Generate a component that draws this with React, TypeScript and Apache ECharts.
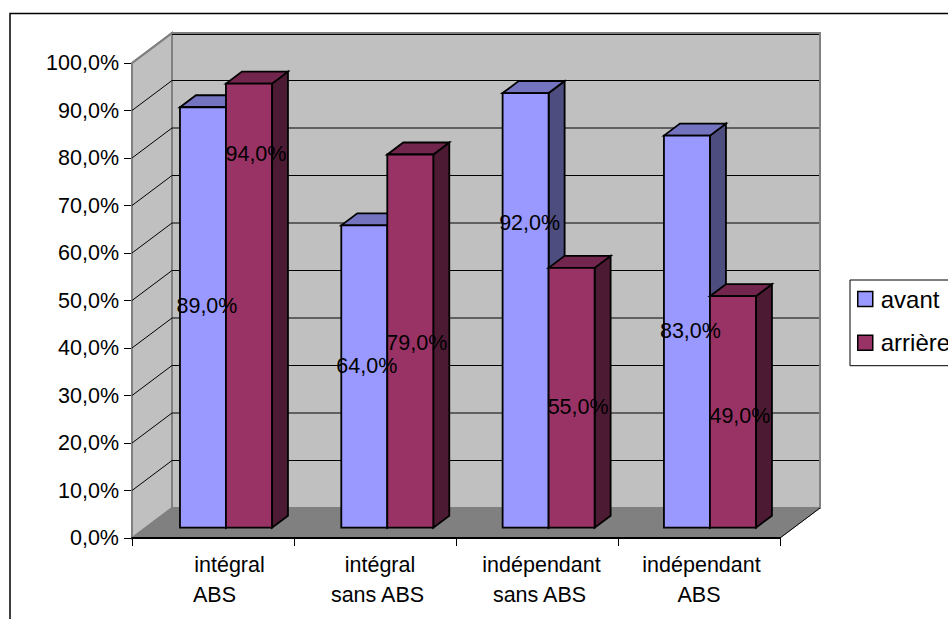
import React, { useEffect, useRef } from "react";
import * as echarts from "echarts";

const categories = ["intégral\nABS", "intégral\nsans ABS", "indépendant\nsans ABS", "indépendant\nABS"];
const avant = [89, 64, 92, 83];
const arriere = [94, 79, 55, 49];
const axisTicks = [0, 10, 20, 30, 40, 50, 60, 70, 80, 90, 100];

// Hand placement of each data label relative to the middle of its bar, in pixels.
const avantLabelShift = [[4, -11], [2.5, -11], [4, -87], [3.5, -1]];
const arriereLabelShift = [[7, -152], [6.5, 2], [6.5, 9], [7, 4]];
// Left padding that moves each line of a category label to the right.
const firstLineIndent = [33, 10, 9, 5];
const secondLineIndent = [3, 5, 5, 0];

const FONT = "'Liberation Sans', Arial, sans-serif";
const FONT_SIZE = 21.5;
const WALL_DX = 40;
const WALL_DY = -30;
const BAR_WIDTH = 46;
const BAR_DX = 16;
const BAR_DY = -12;
const BAR_STROKE = 1.8;

const percent = (v: number) => v.toFixed(1).replace(".", ",") + "%";

const poly = (points: number[][], fill: string, stroke: string, lineWidth: number, z2 = 0) => ({
  type: "polygon",
  z2,
  shape: { points },
  style: { fill, stroke, lineWidth, lineJoin: "miter" },
});

// Side wall, floor, back wall and their grid lines, placed from the front axis scale.
function renderWalls(params: any, api: any) {
  const value = api.value(1);
  const [cx, y] = api.coord([0, value]);
  const band = api.size([1, 0])[0];
  const left = cx - band / 2;
  const right = left + band * categories.length;
  const children: any[] = [];
  if (params.dataIndex === 0) {
    const top = api.coord([0, 100])[1];
    children.push(
      poly([[left, top], [left + WALL_DX, top + WALL_DY], [left + WALL_DX, y + WALL_DY], [left, y]], "#c0c0c0", "#808080", 2),
      poly([[left + WALL_DX, top + WALL_DY], [right + WALL_DX, top + WALL_DY], [right + WALL_DX, y + WALL_DY], [left + WALL_DX, y + WALL_DY]], "#c0c0c0", "#808080", 2),
      poly([[left, y], [left + WALL_DX, y + WALL_DY], [right + WALL_DX, y + WALL_DY], [right, y]], "#808080", "#808080", 1)
    );
    children.push({
      type: "line",
      shape: { x1: right, y1: y, x2: right + WALL_DX, y2: y + WALL_DY },
      style: { stroke: "#000", lineWidth: 1 },
    });
  } else {
    const lineColor = value === 100 ? "#808080" : "#000";
    children.push(
      {
        type: "line",
        z2: 2,
        shape: { x1: left, y1: y, x2: left + WALL_DX, y2: y + WALL_DY },
        style: { stroke: lineColor, lineWidth: value === 100 ? 2 : 1 },
      },
      {
        type: "line",
        z2: 2,
        shape: { x1: left + WALL_DX, y1: y + WALL_DY + (value === 100 ? 1.5 : 0), x2: right + WALL_DX - 1, y2: y + WALL_DY + (value === 100 ? 1.5 : 0) },
        style: { stroke: "#000", lineWidth: 1 },
      }
    );
  }
  return { type: "group", children };
}

// A box drawn in oblique projection with its value label on top of everything.
function makeBarRenderer(side: -1 | 1, colors: string[], shifts: number[][]) {
  return (params: any, api: any) => {
    const value = api.value(1);
    const [cx, yTop] = api.coord([api.value(0), value]);
    const yBase = api.coord([api.value(0), 0])[1];
    const x0 = side < 0 ? cx - BAR_WIDTH : cx;
    const x1 = x0 + BAR_WIDTH;
    const [sx, sy] = shifts[params.dataIndex];
    return {
      type: "group",
      children: [
        poly([[x1, yTop], [x1 + BAR_DX, yTop + BAR_DY], [x1 + BAR_DX, yBase + BAR_DY], [x1, yBase]], colors[2], "#000", BAR_STROKE),
        poly([[x0, yTop], [x0 + BAR_DX, yTop + BAR_DY], [x1 + BAR_DX, yTop + BAR_DY], [x1, yTop]], colors[1], "#000", BAR_STROKE),
        poly([[x0, yTop], [x1, yTop], [x1, yBase], [x0, yBase]], colors[0], "#000", BAR_STROKE),
        {
          type: "text",
          z2: 20,
          x: (x0 + x1) / 2 + sx,
          y: (yTop + yBase) / 2 + sy,
          style: {
            text: percent(value),
            fill: "#000",
            font: `${FONT_SIZE}px ${FONT}`,
            textAlign: "center",
            textVerticalAlign: "middle",
          },
        },
      ],
    };
  };
}

export default function App() {
  const ref = useRef<HTMLDivElement>(null);

  useEffect(() => {
    const chart = echarts.init(ref.current!, undefined, { renderer: "svg" });
    const rich: Record<string, any> = {};
    const lineStyle = { fontFamily: FONT, fontSize: FONT_SIZE, lineHeight: 30, color: "#000" };
    categories.forEach((_, i) => {
      rich[`first${i}`] = { ...lineStyle, padding: [0, 0, 0, firstLineIndent[i]] };
      rich[`second${i}`] = { ...lineStyle, padding: [0, 0, 0, secondLineIndent[i]] };
    });
    chart.setOption({
      animation: false,
      backgroundColor: "#fff",
      textStyle: { fontFamily: FONT },
      graphic: [
        {
          type: "rect",
          silent: true,
          shape: { x: 10, y: 13.5, width: 1100, height: 800 },
          style: { fill: "transparent", stroke: "#000", lineWidth: 1.5 },
        },
      ],
      legend: {
        data: ["avant", "arrière"],
        orient: "vertical",
        left: 850,
        top: 280,
        padding: [7, 40, 11, 7],
        itemWidth: 15,
        itemHeight: 15,
        itemGap: 19.7,
        icon: "rect",
        borderColor: "#000",
        borderWidth: 1,
        backgroundColor: "#fff",
        itemStyle: { borderColor: "#000", borderWidth: 1.5 },
        textStyle: { fontFamily: FONT, fontSize: 24, color: "#000", lineHeight: 23, padding: [0, 0, 0, 3] },
        selectedMode: false,
      },
      grid: [
        { left: 132, top: 63, width: 648, height: 475 },
        { left: 145.3, top: 55.3, width: 645.3, height: 472.4 },
      ],
      xAxis: [
        {
          type: "category",
          gridIndex: 0,
          data: categories,
          z: 5,
          axisLine: { lineStyle: { color: "#000", width: 2 } },
          axisTick: { show: true, length: 8, lineStyle: { color: "#000", width: 1 } },
          axisLabel: {
            margin: 12,
            interval: 0,
            formatter: (name: string, i: number) => {
              const [a, b] = name.split("\n");
              return `{first${i}|${a}}\n{second${i}|${b}}`;
            },
            rich,
          },
        },
        { type: "category", gridIndex: 1, data: categories, show: false },
      ],
      yAxis: [
        {
          type: "value",
          gridIndex: 0,
          min: 0,
          max: 100,
          interval: 10,
          axisLine: { show: false },
          axisTick: { show: true, length: 8, lineStyle: { color: "#000", width: 1 } },
          splitLine: { show: false },
          axisLabel: { margin: 13, color: "#000", fontFamily: FONT, fontSize: FONT_SIZE, formatter: (v: number) => percent(v) },
        },
        { type: "value", gridIndex: 1, min: 0, max: 100, interval: 10, show: false },
      ],
      series: [
        {
          type: "custom",
          name: "walls",
          xAxisIndex: 0,
          yAxisIndex: 0,
          z: 1,
          clip: false,
          silent: true,
          encode: { x: 0, y: 1 },
          data: axisTicks.map((v) => [0, v]),
          renderItem: renderWalls,
        },
        {
          type: "custom",
          name: "avant",
          xAxisIndex: 1,
          yAxisIndex: 1,
          z: 3,
          clip: false,
          encode: { x: 0, y: 1 },
          itemStyle: { color: "#9999ff" },
          data: avant.map((v, i) => [i, v]),
          renderItem: makeBarRenderer(-1, ["#9999ff", "#7373bf", "#4d4d80"], avantLabelShift),
        },
        {
          type: "custom",
          name: "arrière",
          xAxisIndex: 1,
          yAxisIndex: 1,
          z: 3,
          clip: false,
          encode: { x: 0, y: 1 },
          itemStyle: { color: "#993366" },
          data: arriere.map((v, i) => [i, v]),
          renderItem: makeBarRenderer(1, ["#993366", "#73264d", "#4d1a33"], arriereLabelShift),
        },
      ],
    });
    return () => chart.dispose();
  }, []);

  return <div ref={ref} style={{ position: "absolute", left: 0, top: 0, width: 948, height: 619 }} />;
}
